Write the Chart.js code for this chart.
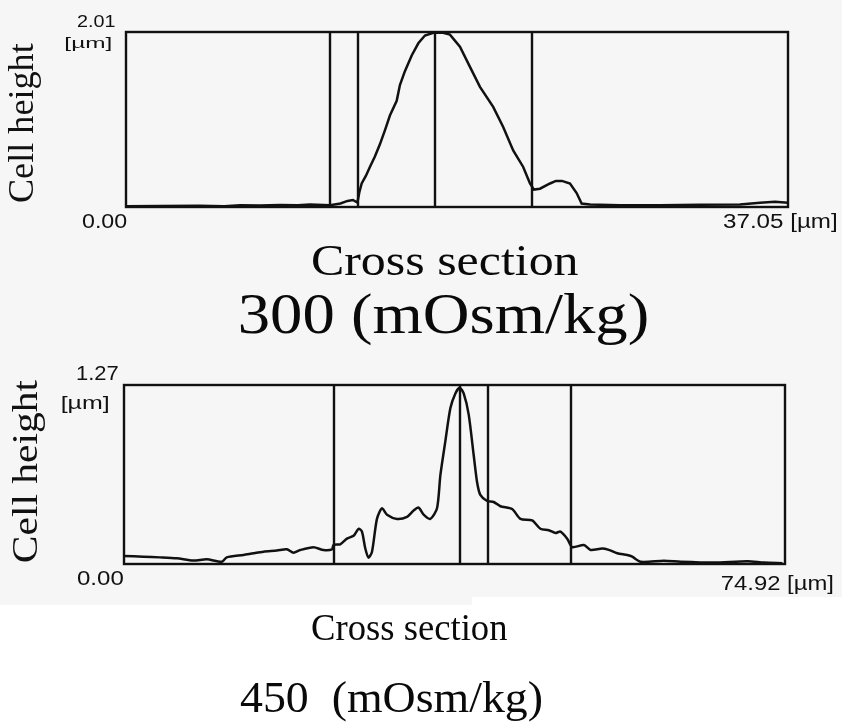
<!DOCTYPE html>
<html>
<head>
<meta charset="utf-8">
<script src="https://cdn.jsdelivr.net/npm/chart.js@4/dist/chart.umd.min.js"></script>
<style>
  html, body { margin: 0; padding: 0; background: #ffffff; }
  #page { position: relative; width: 842px; height: 724px; overflow: hidden; }
  .scan { position: absolute; background: #f6f6f6; }
  canvas { position: absolute; left: 0; top: 0; }
</style>
</head>
<body>
<div id="page">
  <div class="scan" style="left:0;top:0;width:842px;height:597px"></div>
  <div class="scan" style="left:0;top:597px;width:472px;height:8px"></div>
  <canvas id="c300" width="842" height="724"></canvas>
  <canvas id="c450" width="842" height="724"></canvas>
</div>
<script>
// ---- 300 mOsm/kg cross-section profile (position [µm], height [µm]) ----
const pos300 = [0, 1.9, 4.1, 5.5, 6.4, 7.5, 8.6, 9.6, 10.3, 11.42, 12.0, 12.4, 12.7, 12.95,
  13.06, 13.19, 13.43, 13.65, 13.93, 14.21, 14.49, 14.77, 15.15, 15.33, 15.61, 15.99, 16.36,
  16.73, 17.2, 17.74, 18.13, 18.69, 19.25, 19.81, 20.55, 21.11, 21.67, 22.23, 22.61, 22.83,
  23.17, 23.73, 24.06, 24.4, 24.85, 25.22, 25.5, 25.97, 27.64, 29.88, 32.12, 34.36, 35.48,
  36.32, 37.05];
const height300 = [0.01, 0.012, 0.015, 0.01, 0.02, 0.018, 0.022, 0.02, 0.028, 0.02, 0.04, 0.07,
  0.08, 0.05, 0.17, 0.27, 0.36, 0.46, 0.58, 0.72, 0.88, 1.05, 1.22, 1.4, 1.56, 1.74, 1.88,
  1.97, 2.0, 2.0, 1.98, 1.84, 1.61, 1.38, 1.15, 0.92, 0.65, 0.46, 0.27, 0.2, 0.21, 0.27,
  0.3, 0.3, 0.27, 0.16, 0.04, 0.03, 0.02, 0.02, 0.025, 0.03, 0.05, 0.06, 0.05];
const cursors300 = [11.42, 12.99, 17.32, 22.75];
const width300 = 37.05;
const maxHeight300 = 2.01;

// ---- 450 mOsm/kg cross-section profile ----
const pos450 = [0, 2.19, 4.08, 5.98, 7.86, 9.38, 11.09, 11.65, 13.54, 14.67, 15.81, 17.33,
  18.46, 19.21, 19.97, 21.48, 22.61, 23.57, 23.75, 24.51, 25.27, 26.02, 26.59, 26.97, 27.35,
  27.72, 28.11, 28.67, 29.24, 29.81, 30.94, 32.08, 32.83, 33.39, 33.96, 34.72, 35.48, 35.86,
  36.42, 36.99, 37.56, 38.05, 38.5, 39.07, 39.64, 40.02, 40.39, 41.16, 41.9, 42.66, 43.99,
  44.93, 46.26, 47.2, 48.15, 48.91, 49.47, 50.23, 50.8, 52.12, 52.88, 54.2, 54.95, 55.91,
  57.04, 57.61, 58.55, 61.19, 63.09, 66.87, 70.66, 72.54, 74.63];
const height450 = [0.057, 0.052, 0.047, 0.04, 0.024, 0.033, 0.016, 0.047, 0.064, 0.076, 0.087,
  0.095, 0.104, 0.08, 0.099, 0.119, 0.099, 0.104, 0.135, 0.14, 0.18, 0.2, 0.25, 0.23, 0.11,
  0.045, 0.087, 0.32, 0.395, 0.35, 0.32, 0.335, 0.38, 0.4, 0.35, 0.32, 0.395, 0.63, 0.87,
  1.105, 1.21, 1.25, 1.21, 1.06, 0.77, 0.58, 0.49, 0.447, 0.44, 0.41, 0.39, 0.32, 0.31,
  0.25, 0.24, 0.22, 0.23, 0.18, 0.12, 0.135, 0.1, 0.11, 0.1, 0.076, 0.064, 0.052, 0.016,
  0.023, 0.016, 0.01, 0.02, 0.01, 0.005];
const cursors450 = [23.77, 38.05, 41.25, 50.72];
const width450 = 74.92;
const maxHeight450 = 1.27;

const SANS = '"Liberation Sans", Arial, sans-serif';
const SERIF = '"Liberation Serif", "Times New Roman", serif';
const INK = '#111111';

// Draw text so that its ink spans [left, right] on the given baseline.
function fitText(ctx, text, font, left, right, baseline) {
  ctx.save();
  ctx.font = font;
  ctx.textAlign = 'left';
  ctx.textBaseline = 'alphabetic';
  const m = ctx.measureText(text);
  const ink = m.actualBoundingBoxLeft + m.actualBoundingBoxRight;
  const s = (right - left) / ink;
  ctx.translate(left, baseline);
  ctx.scale(s, 1);
  ctx.fillText(text, m.actualBoundingBoxLeft, 0);
  ctx.restore();
}

// Vertical text reading bottom-to-top, ink spanning [top, bottom], baseline at x.
function fitTextUp(ctx, text, font, bottom, top, baselineX) {
  ctx.save();
  ctx.font = font;
  ctx.textAlign = 'left';
  ctx.textBaseline = 'alphabetic';
  const m = ctx.measureText(text);
  const ink = m.actualBoundingBoxLeft + m.actualBoundingBoxRight;
  const s = (bottom - top) / ink;
  ctx.translate(baselineX, bottom);
  ctx.rotate(-Math.PI / 2);
  ctx.scale(s, 1);
  ctx.fillText(text, m.actualBoundingBoxLeft, 0);
  ctx.restore();
}

// Frame, cursor lines and annotations of a profile panel.
const profileFrame = {
  id: 'profileFrame',
  afterDatasetsDraw(chart, args, o) {
    const ctx = chart.ctx;
    const xs = chart.scales.x, ys = chart.scales.y;
    const a = chart.chartArea;
    ctx.save();
    ctx.strokeStyle = INK;
    ctx.lineWidth = 2.4;
    ctx.strokeRect(a.left, a.top, a.right - a.left, a.bottom - a.top);
    o.cursors.forEach(v => {
      const px = Math.round(xs.getPixelForValue(v));
      ctx.beginPath();
      ctx.moveTo(px, ys.getPixelForValue(0));
      ctx.lineTo(px, ys.getPixelForValue(ys.max));
      ctx.stroke();
    });
    ctx.fillStyle = INK;
    o.texts.forEach(t => fitText(ctx, t.text, t.font, t.l, t.r, t.b));
    fitTextUp(ctx, o.yTitle.text, o.yTitle.font, o.yTitle.bottom, o.yTitle.top, o.yTitle.x);
    ctx.fillStyle = '#0a0a0a';
    o.titles.forEach(t => fitText(ctx, t.text, t.font, t.l, t.r, t.b));
    ctx.restore();
  }
};

function makeProfile(id, xs, hs, xMax, yMax, pad, frame, tension) {
  return new Chart(document.getElementById(id), {
    type: 'line',
    data: {
      datasets: [{
        data: xs.map((x, i) => ({ x: x, y: hs[i] })),
        borderColor: INK,
        borderWidth: 2.5,
        pointRadius: 0,
        tension: tension,
        fill: false
      }]
    },
    options: {
      responsive: false,
      animation: false,
      events: [],
      layout: { padding: pad },
      scales: {
        x: { type: 'linear', min: 0, max: xMax, display: false },
        y: { type: 'linear', min: 0, max: yMax, display: false }
      },
      plugins: {
        legend: { display: false },
        tooltip: { enabled: false },
        profileFrame: frame
      }
    },
    plugins: [profileFrame]
  });
}

makeProfile('c300', pos300, height300, width300, maxHeight300,
  { left: 126, right: 54, top: 32, bottom: 517 },
  {
    cursors: cursors300,
    texts: [
      { text: maxHeight300.toFixed(2), font: '17px ' + SANS, l: 77, r: 115, b: 27 },
      { text: '[µm]', font: '15px ' + SANS, l: 66, r: 112, b: 48 },
      { text: (0).toFixed(2), font: '20px ' + SANS, l: 82, r: 127, b: 228 },
      { text: width300.toFixed(2) + ' [µm]', font: '20px ' + SANS, l: 723, r: 837, b: 228 }
    ],
    yTitle: { text: 'Cell height', font: '35px ' + SERIF, bottom: 202, top: 43, x: 33 },
    titles: [
      { text: 'Cross section', font: '45px ' + SERIF, l: 312, r: 578, b: 275 },
      { text: '300 (mOsm/kg)', font: '57px ' + SERIF, l: 240, r: 647, b: 333 }
    ]
  }, 0);

makeProfile('c450', pos450, height450, width450, maxHeight450,
  { left: 124, right: 57, top: 385, bottom: 160 },
  {
    cursors: cursors450,
    texts: [
      { text: maxHeight450.toFixed(2), font: '21px ' + SANS, l: 77, r: 118, b: 380 },
      { text: '[µm]', font: '19px ' + SANS, l: 62, r: 108, b: 409 },
      { text: (0).toFixed(2), font: '21px ' + SANS, l: 77, r: 123, b: 585 },
      { text: width450.toFixed(2) + ' [µm]', font: '21px ' + SANS, l: 722, r: 833, b: 590 }
    ],
    yTitle: { text: 'Cell height', font: '36px ' + SERIF, bottom: 562, top: 380, x: 37 },
    titles: [
      { text: 'Cross section', font: '37px ' + SERIF, l: 312, r: 507, b: 640 },
      { text: '450  (mOsm/kg)', font: '45px ' + SERIF, l: 240, r: 542, b: 712 }
    ]
  }, 0.25);
</script>
</body>
</html>
